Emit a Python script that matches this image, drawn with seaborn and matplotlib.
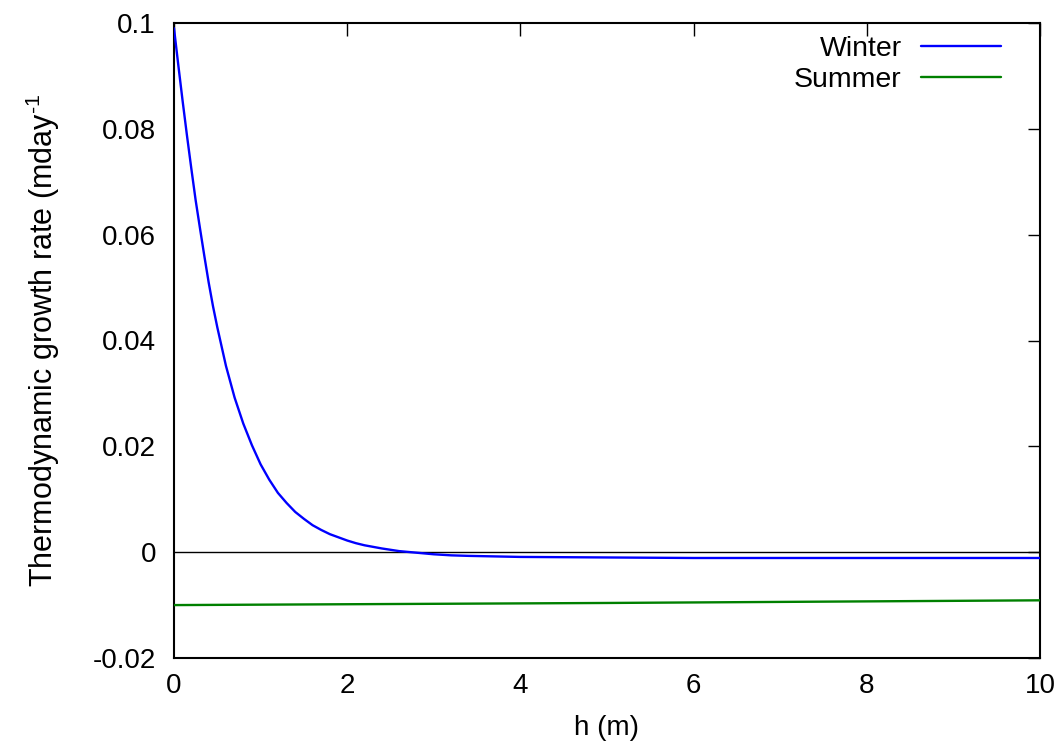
import matplotlib
matplotlib.use("Agg")
import matplotlib.pyplot as plt
import seaborn as sns
import pandas as pd

# Ice thickness (m) and thermodynamic growth rate (m/day)
winter_h = [0.0, 0.05, 0.1, 0.15, 0.2, 0.25, 0.3, 0.35, 0.4, 0.45, 0.5, 0.6,
            0.7, 0.8, 0.9, 1.0, 1.1, 1.2, 1.3, 1.4, 1.5, 1.6, 1.7, 1.8, 1.9,
            2.0, 2.1, 2.2, 2.4, 2.6, 2.8, 3.0, 3.2, 3.4, 3.7, 4.0, 4.5, 5.0,
            6.0, 8.0, 10.0]
winter_rate = [0.0990, 0.0920, 0.0852, 0.0787, 0.0725, 0.0665, 0.0612, 0.0560,
               0.0510, 0.0465, 0.0425, 0.0352, 0.0292, 0.0243, 0.0202, 0.0166,
               0.0137, 0.0112, 0.0093, 0.0076, 0.0063, 0.0051, 0.0042, 0.0034,
               0.0028, 0.0022, 0.0017, 0.0013, 0.0007, 0.0002, -0.0001, -0.0004,
               -0.0006, -0.0007, -0.0008, -0.0009, -0.00095, -0.0010, -0.0011,
               -0.0011, -0.0011]

summer_h = [0.0, 5.0, 10.0]
summer_rate = [-0.0100, -0.0096, -0.0091]

x_ticks = [0, 2, 4, 6, 8, 10]
y_ticks = [-0.02, 0.0, 0.02, 0.04, 0.06, 0.08, 0.1]
y_tick_labels = ["-0.02", "0", "0.02", "0.04", "0.06", "0.08", "0.1"]

df = pd.concat([
    pd.DataFrame({"h": winter_h, "rate": winter_rate, "season": "Winter"}),
    pd.DataFrame({"h": summer_h, "rate": summer_rate, "season": "Summer"}),
])

sns.set_theme(style="white")
plt.rcParams["font.family"] = ["Liberation Sans", "DejaVu Sans"]
plt.rcParams["mathtext.fontset"] = "custom"
plt.rcParams["mathtext.rm"] = "Liberation Sans"
plt.rcParams["text.color"] = "black"
plt.rcParams["axes.labelcolor"] = "black"

FS = 20

fig = plt.figure(figsize=(10.61, 7.53), dpi=100)
ax = fig.add_axes([174 / 1061, 1 - 658 / 753, (1040 - 174) / 1061, (658 - 23) / 753])

ax.axhline(0, color="black", lw=1.0, zorder=1)
sns.lineplot(data=df, x="h", y="rate", hue="season",
             palette={"Winter": "#0000ff", "Summer": "#008000"},
             lw=1.7, ax=ax, legend=True, zorder=3)

ax.set_xlim(0, 10)
ax.set_ylim(-0.02, 0.1)
ax.set_xticks(x_ticks)
ax.set_xticklabels([str(t) for t in x_ticks])
ax.set_yticks(y_ticks)
ax.set_yticklabels(y_tick_labels)

ax.tick_params(direction="in", length=9, width=1.0, top=True, right=True,
               labelsize=FS, colors="black")
ax.tick_params(axis="x", pad=10.5)
ax.tick_params(axis="y", pad=13)
for s in ax.spines.values():
    s.set_color("black")
    s.set_linewidth(1.5)

ax.set_xlabel("h (m)", fontsize=FS, labelpad=12)
ax.set_ylabel(r"Thermodynamic growth rate (mday$^{\mathregular{\text{-}1}}$",
              fontsize=22, labelpad=22)

handles, labels = ax.get_legend_handles_labels()
ax.legend(handles, labels, loc="upper right", frameon=False, markerfirst=False,
          fontsize=20.5, handlelength=2.8, handletextpad=0.68, labelspacing=0.16,
          borderpad=0.47, borderaxespad=0.0, bbox_to_anchor=(0.970, 1.0))

fig.savefig("out.png", dpi=100)
